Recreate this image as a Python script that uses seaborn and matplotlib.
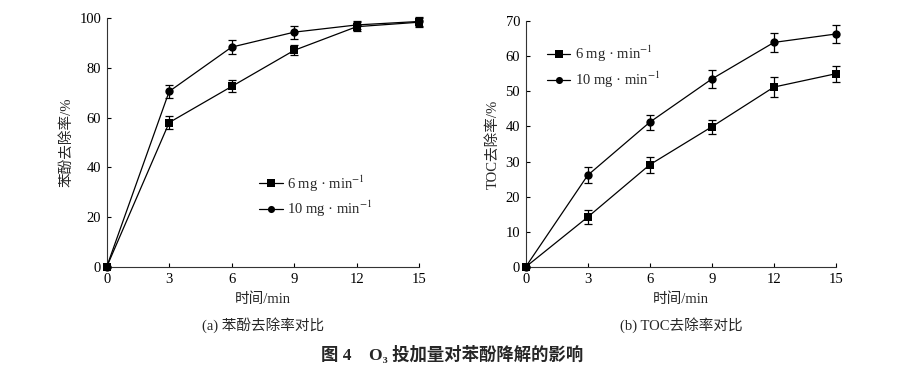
import numpy as np
import pandas as pd
import matplotlib
matplotlib.use("Agg")
import matplotlib.pyplot as plt
import seaborn as sns

# ---- data ----
time_min = [0, 3, 6, 9, 12, 15]
series_names = ["6 mg · min$^{-1}$", "10 mg · min$^{-1}$"]

phenol_6 = [0, 58.0, 72.5, 87.0, 96.5, 98.3]
phenol_6_err = [0, 2.6, 2.4, 2.0, 1.8, 1.8]
phenol_10 = [0, 70.5, 88.3, 94.3, 97.2, 98.6]
phenol_10_err = [0, 2.5, 2.8, 2.6, 1.5, 1.8]

toc_6 = [0, 14.2, 29.1, 39.9, 51.2, 55.0]
toc_6_err = [0, 2.1, 2.3, 2.0, 2.9, 2.3]
toc_10 = [0, 26.1, 41.2, 53.5, 63.9, 66.3]
toc_10_err = [0, 2.3, 2.1, 2.6, 2.8, 2.6]

x_ticks = [0, 3, 6, 9, 12, 15]
phenol_yticks = [0, 20, 40, 60, 80, 100]
toc_yticks = [0, 10, 20, 30, 40, 50, 60, 70]

sns.set_theme(style="ticks")
plt.rcParams["font.family"] = ["Liberation Serif", "Noto Sans CJK SC", "DejaVu Serif"]
plt.rcParams["mathtext.fontset"] = "stix"
plt.rcParams["axes.unicode_minus"] = False

fig = plt.figure(figsize=(9.18, 3.72), dpi=100)
axL = fig.add_axes([0.1162, 0.2823, 0.3404, 0.6694])
axR = fig.add_axes([0.5726, 0.2823, 0.3381, 0.6613])

def make_df(y6, y10):
    return pd.DataFrame({
        "t": time_min * 2,
        "v": list(y6) + list(y10),
        "s": [series_names[0]] * len(time_min) + [series_names[1]] * len(time_min),
    })

def draw(ax, y6, e6, y10, e10, ylim, yticks, ylabel, sub, leg_loc):
    df = make_df(y6, y10)
    sns.lineplot(data=df, x="t", y="v", hue="s", style="s",
                 markers={series_names[0]: "s", series_names[1]: "o"},
                 dashes=False, palette=["black", "black"], markersize=6,
                 linewidth=0.9, ax=ax, markeredgewidth=0, legend=True,
                 clip_on=False, zorder=3)
    ax.errorbar(time_min, y6, yerr=e6, fmt="none", ecolor="black",
                elinewidth=0.9, capsize=2.8, capthick=0.9, clip_on=False, zorder=2)
    ax.errorbar(time_min, y10, yerr=e10, fmt="none", ecolor="black",
                elinewidth=0.9, capsize=2.8, capthick=0.9, clip_on=False, zorder=2)
    ax.set_xlim(0, 15)
    ax.set_ylim(*ylim)
    ax.set_xticks(x_ticks)
    ax.set_yticks(yticks)
    ax.tick_params(direction="in", length=3, width=0.8, labelsize=10.5, colors="black", pad=4)
    for s in ["top", "right"]:
        ax.spines[s].set_visible(False)
    for s in ["left", "bottom"]:
        ax.spines[s].set_linewidth(0.8)
        ax.spines[s].set_color("#333333")
    ax.set_xlabel("时间/min", fontsize=10.5, labelpad=5)
    ax.set_ylabel(ylabel, fontsize=10.5, labelpad=4)
    ax.text(0.5, -0.235, sub, transform=ax.transAxes, ha="center", va="center", fontsize=10.5)
    ax.legend(loc=leg_loc[0], bbox_to_anchor=leg_loc[1], frameon=False,
              fontsize=10.5, handlelength=1.6, handletextpad=0.3,
              labelspacing=0.35, borderaxespad=0, markerscale=0.85)

draw(axL, phenol_6, phenol_6_err, phenol_10, phenol_10_err, (0, 100),
     phenol_yticks, "苯酚去除率/%", "(a) 苯酚去除率对比", ("upper left", (0.47, 0.40)))
draw(axR, toc_6, toc_6_err, toc_10, toc_10_err, (0, 70),
     toc_yticks, "TOC去除率/%", "(b) TOC去除率对比", ("upper left", (0.05, 0.93)))

fig.text(0.493, 0.045, "图 4    O₃ 投加量对苯酚降解的影响", ha="center", va="center",
         fontsize=12.5, fontweight="bold",
         family=["Liberation Serif", "Noto Sans CJK SC", "DejaVu Serif"])

fig.savefig("out.png", dpi=100, facecolor="white")
